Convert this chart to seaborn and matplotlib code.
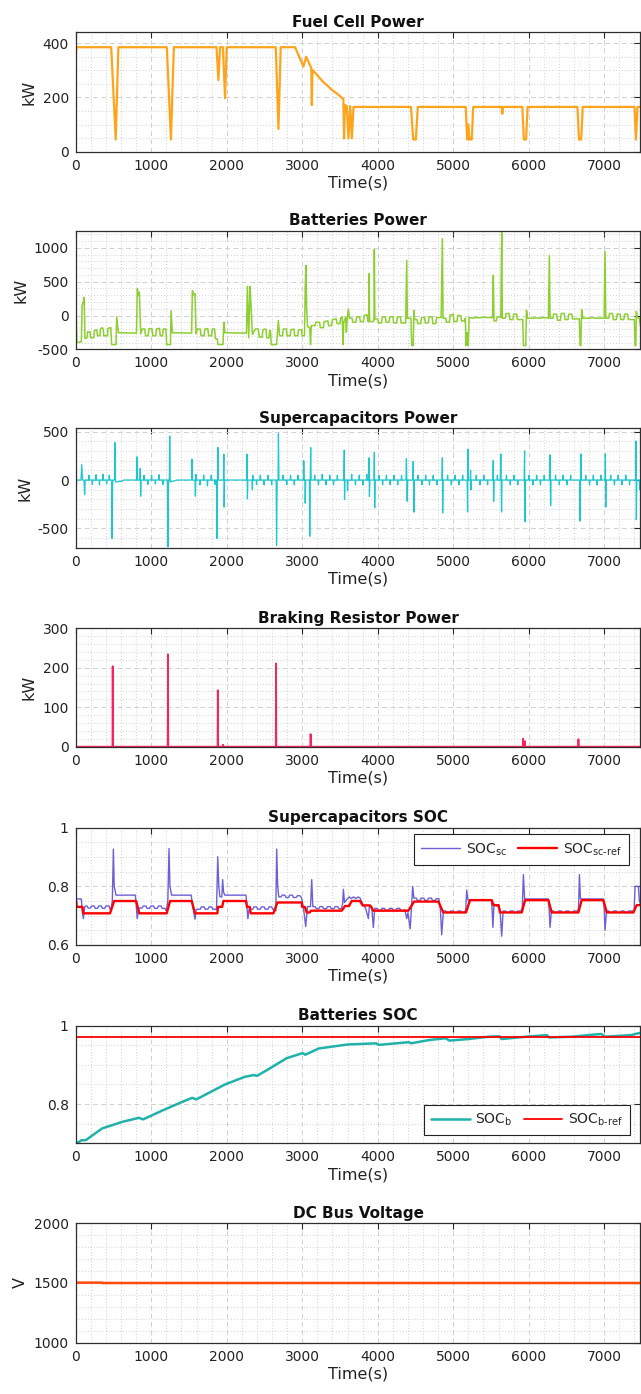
import numpy as np
import pandas as pd
import matplotlib
matplotlib.use("Agg")
import matplotlib.pyplot as plt
from matplotlib.ticker import MultipleLocator, FuncFormatter
import seaborn as sns

# ---------------- data (time in s) ----------------
fuel_cell = [(0, 440), (3, 360), (8, 385), (470, 385), (530, 45), (565, 385), (1207, 385), (1261, 45),
             (1300, 385), (1865, 385), (1890, 264), (1912, 385), (1950, 385), (1978, 197), (2000, 385),
             (2650, 385), (2685, 84), (2715, 385), (2906, 385), (3016, 314), (3052, 350), (3082, 332),
             (3120, 308), (3127, 172), (3135, 301), (3148, 298), (3214, 277), (3280, 256), (3325, 246),
             (3391, 228), (3457, 215), (3523, 199), (3545, 194), (3554, 49), (3565, 172), (3590, 168),
             (3612, 49), (3635, 168), (3657, 49), (3679, 165), (4440, 165), (4470, 45), (4505, 45),
             (4530, 165), (5165, 165), (5185, 45), (5200, 100), (5215, 45), (5245, 45), (5265, 165),
             (5640, 165), (5650, 140), (5660, 165), (5915, 165), (5935, 45), (5965, 45), (5985, 165),
             (6645, 165), (6665, 45), (6695, 45), (6715, 165), (7400, 165), (7420, 45), (7440, 165),
             (7480, 165)]

batteries = [(0, 380), (15, -400), (75, -390), (85, 150), (100, 200), (112, 270), (122, -340), (150, -330),
             (158, -240), (190, -245), (198, -330), (240, -330), (248, -220), (280, -215), (288, -300),
             (320, -300), (328, -200), (350, -180), (365, -200), (372, -300), (420, -300), (428, -190),
             (465, -180), (476, -430), (534, -430), (543, -20), (565, -255), (805, -260), (816, 396),
             (830, 300), (843, 346), (861, -272), (880, -200), (915, -200), (925, -300), (960, -300),
             (970, -195), (1010, -195), (1020, -300), (1060, -300), (1070, -200), (1110, -190),
             (1120, -300), (1150, -300), (1160, -200), (1195, -200), (1205, -430), (1255, -430),
             (1263, 70), (1280, -255), (1535, -260), (1545, 371), (1567, 300), (1580, 321), (1594, -270),
             (1610, -200), (1650, -200), (1660, -300), (1700, -300), (1710, -200), (1750, -195),
             (1760, -300), (1800, -300), (1810, -200), (1840, -200), (1850, -345), (1875, -345),
             (1885, -430), (1950, -430), (1963, -100), (1975, -255), (2262, -260), (2274, 430),
             (2291, -330), (2309, 430), (2322, 150), (2340, -280), (2380, -200), (2420, -200),
             (2430, -320), (2470, -320), (2480, -210), (2520, -200), (2530, -330), (2560, -330),
             (2570, -220), (2580, -230), (2590, -430), (2660, -430), (2684, -74), (2700, -300),
             (2740, -300), (2750, -200), (2790, -200), (2800, -300), (2840, -300), (2850, -210),
             (2890, -200), (2900, -300), (2940, -300), (2950, -210), (2990, -210), (3000, -300),
             (3030, -300), (3040, 420), (3050, 742), (3058, 100), (3070, -150), (3085, -180),
             (3100, -180), (3110, -430), (3120, -150), (3170, -150), (3180, -100), (3230, -100),
             (3240, -180), (3280, -180), (3290, -90), (3340, -80), (3350, -150), (3390, -150),
             (3400, -60), (3450, -50), (3460, -120), (3500, -120), (3510, -30), (3530, -30),
             (3540, -430), (3550, -100), (3575, -25), (3585, -250), (3595, -60), (3611, 99),
             (3625, -40), (3660, -40), (3670, -100), (3710, -100), (3720, -20), (3760, -20),
             (3770, -90), (3810, -90), (3820, 0), (3860, 10), (3870, -90), (3880, -90), (3885, 618),
             (3893, -90), (3940, -90), (3950, -60), (3955, 979), (3962, -50), (4000, -50), (4010, -110),
             (4050, -110), (4060, -20), (4100, -20), (4110, -100), (4150, -100), (4160, -20),
             (4200, -15), (4210, -110), (4250, -110), (4260, -20), (4300, -20), (4310, -110),
             (4370, -110), (4384, 816), (4392, -40), (4440, -40), (4450, -445), (4470, -445),
             (4480, 74), (4490, -60), (4520, -60), (4530, -120), (4570, -120), (4580, -30),
             (4620, -30), (4630, -110), (4670, -110), (4680, -20), (4720, -20), (4730, -120),
             (4770, -120), (4780, -30), (4840, -30), (4856, 1138), (4865, -40), (4900, -40),
             (4910, -100), (4950, -100), (4960, 10), (5000, 15), (5010, -90), (5050, -90), (5060, 0),
             (5100, 0), (5110, -80), (5150, -80), (5160, -40), (5170, -445), (5180, -250),
             (5190, -445), (5200, -445), (5210, -30), (5260, -40), (5300, -30), (5350, -35),
             (5400, -25), (5450, -30), (5520, -30), (5531, 594), (5540, -80), (5570, -80), (5580, -20),
             (5620, -20), (5630, -30), (5642, 1227), (5650, -40), (5690, -40), (5700, 30), (5740, 30),
             (5750, -60), (5790, -60), (5800, 20), (5840, 20), (5850, -60), (5920, -60), (5930, -445),
             (5960, -445), (5970, 80), (5985, -40), (6050, -40), (6100, -35), (6150, -40), (6200, -30),
             (6260, -40), (6273, 890), (6282, -40), (6320, -40), (6330, 20), (6370, 20), (6380, -70),
             (6420, -70), (6430, 30), (6470, 30), (6480, -60), (6520, -60), (6530, 20), (6570, 20),
             (6580, -50), (6670, -50), (6680, -445), (6690, -445), (6700, 90), (6715, -40),
             (6780, -40), (6850, -35), (6920, -40), (6998, -40), (7010, 950), (7020, -40),
             (7060, -40), (7070, 30), (7110, 30), (7120, -60), (7160, -60), (7170, 20), (7210, 20),
             (7220, -60), (7260, -60), (7270, 20), (7310, 20), (7320, -60), (7398, -60), (7408, -445),
             (7418, -445), (7425, 60), (7440, -30), (7465, -40), (7480, -160)]

supercaps = [(0, 250), (5, -180), (12, 0), (70, 0), (80, 160), (90, 0), (110, 0), (118, -150), (126, 0),
             (170, 0), (175, 50), (180, 0), (215, 0), (220, -45), (225, 0), (265, 0), (270, 55), (275, 0),
             (310, 0), (315, -50), (320, 0), (355, 0), (360, 60), (365, 0), (405, 0), (410, -40), (415, 0),
             (440, 0), (445, 50), (450, 0), (476, 0), (481, -605), (490, 0), (514, 0), (519, 387),
             (528, -20), (600, -15), (640, 0), (805, 0), (811, 240), (818, 0), (850, 0), (855, 120),
             (860, -167), (866, 0), (900, 0), (905, 50), (910, 0), (950, 0), (955, -45), (960, 0),
             (1000, 0), (1005, 50), (1010, 0), (1050, 0), (1055, -40), (1060, 0), (1100, 0), (1105, 55),
             (1110, 0), (1150, 0), (1155, -45), (1160, 0), (1215, 0), (1222, -692), (1230, 0), (1240, 0),
             (1245, 455), (1252, -20), (1300, -10), (1340, 0), (1535, 0), (1540, 216), (1547, 0),
             (1580, 0), (1585, -167), (1592, 60), (1598, 0), (1640, 0), (1645, -50), (1650, 0),
             (1690, 0), (1695, 50), (1700, 0), (1740, 0), (1745, -60), (1750, 0), (1790, 0), (1795, 50),
             (1800, 0), (1840, 0), (1845, -45), (1850, 0), (1865, 0), (1870, -605), (1878, 0),
             (1883, 336), (1890, 0), (1957, 0), (1962, 267), (1966, -280), (1972, 0), (2263, 0),
             (2268, 267), (2274, -195), (2280, 0), (2335, 0), (2340, -100), (2345, 50), (2350, 0),
             (2390, 0), (2395, -50), (2400, 0), (2440, 0), (2445, 50), (2450, 0), (2490, 0), (2495, -50),
             (2500, 0), (2540, 0), (2545, 50), (2550, 0), (2590, 0), (2595, -50), (2600, 0), (2655, 0),
             (2660, -675), (2668, 0), (2680, 0), (2685, 479), (2692, 0), (2740, 0), (2745, 50),
             (2750, 0), (2790, 0), (2795, -50), (2800, 0), (2840, 0), (2845, 50), (2850, 0), (2890, 0),
             (2895, -50), (2900, 0), (2940, 0), (2945, 50), (2950, 0), (3015, 0), (3020, 200),
             (3028, 0), (3035, 0), (3040, -240), (3046, 0), (3095, 0), (3100, -581), (3106, 0),
             (3112, 336), (3118, 0), (3160, 0), (3165, 50), (3170, 0), (3210, 0), (3215, -50),
             (3220, 0), (3260, 0), (3265, 60), (3270, 0), (3310, 0), (3315, -50), (3320, 0), (3360, 0),
             (3365, 50), (3370, 0), (3410, 0), (3415, -50), (3420, 0), (3460, 0), (3465, 50), (3470, 0),
             (3550, 0), (3557, 310), (3560, -200), (3566, 0), (3595, 0), (3600, -110), (3606, 0),
             (3650, 0), (3655, 60), (3660, 0), (3700, 0), (3705, -50), (3710, 0), (3750, 0), (3755, 50),
             (3760, 0), (3800, 0), (3805, -50), (3810, 0), (3850, 0), (3855, 60), (3860, 0), (3878, 0),
             (3884, 230), (3890, -170), (3896, 0), (3950, 0), (3955, 284), (3960, -288), (3966, 0),
             (4010, 0), (4015, 50), (4020, 0), (4060, 0), (4065, -50), (4070, 0), (4110, 0), (4115, 50),
             (4120, 0), (4160, 0), (4165, -50), (4170, 0), (4210, 0), (4215, 50), (4220, 0), (4260, 0),
             (4265, -50), (4270, 0), (4310, 0), (4315, 50), (4320, 0), (4374, 0), (4380, 220),
             (4390, -219), (4396, 0), (4464, 0), (4470, 192), (4480, -332), (4486, 0), (4530, 0),
             (4535, 50), (4540, 0), (4580, 0), (4585, -50), (4590, 0), (4630, 0), (4635, 50), (4640, 0),
             (4680, 0), (4685, -50), (4690, 0), (4730, 0), (4735, 50), (4740, 0), (4780, 0), (4785, -50),
             (4790, 0), (4850, 0), (4856, 230), (4860, -340), (4866, 0), (4920, 0), (4925, 50),
             (4930, 0), (4970, 0), (4975, -50), (4980, 0), (5020, 0), (5025, 50), (5030, 0), (5070, 0),
             (5075, -50), (5080, 0), (5120, 0), (5125, 50), (5130, 0), (5184, 0), (5190, -330),
             (5195, 319), (5202, 0), (5225, 0), (5230, 100), (5235, -100), (5240, 0), (5300, 0),
             (5305, 50), (5310, 0), (5350, 0), (5355, -50), (5360, 0), (5400, 0), (5405, 50), (5410, 0),
             (5450, 0), (5455, -50), (5460, 0), (5524, 0), (5530, 202), (5535, -220), (5541, 0),
             (5580, 0), (5585, 50), (5590, 0), (5624, 0), (5630, 270), (5640, -330), (5646, 0),
             (5700, 0), (5705, 50), (5710, 0), (5750, 0), (5755, -50), (5760, 0), (5800, 0), (5805, 50),
             (5810, 0), (5850, 0), (5855, -50), (5860, 0), (5939, 0), (5945, 301), (5950, -431),
             (5956, 0), (6000, 0), (6005, 50), (6010, 0), (6050, 0), (6055, -50), (6060, 0), (6100, 0),
             (6105, 50), (6110, 0), (6150, 0), (6155, -50), (6160, 0), (6200, 0), (6205, 50), (6210, 0),
             (6274, 0), (6280, 260), (6290, -265), (6296, 0), (6350, 0), (6355, 50), (6360, 0),
             (6400, 0), (6405, -50), (6410, 0), (6450, 0), (6455, 50), (6460, 0), (6500, 0), (6505, -50),
             (6510, 0), (6550, 0), (6555, 50), (6560, 0), (6674, 0), (6680, -425), (6690, 270),
             (6696, 0), (6750, 0), (6755, 50), (6760, 0), (6800, 0), (6805, -50), (6810, 0), (6850, 0),
             (6855, 50), (6860, 0), (6900, 0), (6905, -50), (6910, 0), (6950, 0), (6955, 50), (6960, 0),
             (7009, 0), (7015, 270), (7020, -280), (7026, 0), (7080, 0), (7085, 50), (7090, 0),
             (7130, 0), (7135, -50), (7140, 0), (7180, 0), (7185, 50), (7190, 0), (7230, 0),
             (7235, -50), (7240, 0), (7280, 0), (7285, 50), (7290, 0), (7330, 0), (7335, -50),
             (7340, 0), (7414, 0), (7420, 404), (7425, -411), (7431, 0), (7465, 0), (7470, -100),
             (7480, -60)]

braking = [(0, 0), (487, 0), (490, 204), (494, 0), (1219, 0), (1222, 234), (1226, 0), (1879, 0),
           (1882, 143), (1886, 0), (1950, 0), (1953, 5), (1956, 0), (2650, 0), (2653, 211), (2657, 0),
           (3108, 0), (3111, 32), (3115, 0), (5922, 0), (5925, 20), (5929, 0), (5945, 0), (5948, 14),
           (5951, 0), (6655, 0), (6658, 19), (6662, 0), (7480, 0)]

soc_sc = [(0, 0.80), (5, 0.71), (12, 0.757), (75, 0.757), (85, 0.72), (101, 0.69), (120, 0.731),
          (150, 0.733), (165, 0.726), (195, 0.726), (210, 0.733), (245, 0.733), (260, 0.725),
          (290, 0.725), (305, 0.733), (340, 0.733), (355, 0.725), (385, 0.725), (400, 0.733),
          (440, 0.733), (465, 0.716), (485, 0.75), (499, 0.927), (510, 0.80), (534, 0.77), (790, 0.77),
          (800, 0.74), (815, 0.69), (830, 0.72), (845, 0.726), (880, 0.726), (895, 0.733), (930, 0.733),
          (945, 0.725), (980, 0.725), (995, 0.733), (1030, 0.733), (1045, 0.725), (1080, 0.725),
          (1095, 0.733), (1130, 0.733), (1145, 0.725), (1180, 0.725), (1200, 0.716), (1220, 0.75),
          (1236, 0.929), (1248, 0.80), (1270, 0.77), (1530, 0.77), (1545, 0.74), (1580, 0.688),
          (1595, 0.72), (1610, 0.722), (1650, 0.722), (1665, 0.73), (1700, 0.73), (1715, 0.722),
          (1750, 0.722), (1765, 0.73), (1800, 0.73), (1815, 0.722), (1850, 0.722), (1865, 0.72),
          (1881, 0.901), (1895, 0.80), (1910, 0.764), (1935, 0.764), (1946, 0.823), (1958, 0.78),
          (1975, 0.77), (2255, 0.77), (2265, 0.74), (2280, 0.69), (2295, 0.72), (2310, 0.722),
          (2345, 0.722), (2360, 0.73), (2395, 0.73), (2410, 0.722), (2445, 0.722), (2460, 0.73),
          (2495, 0.73), (2510, 0.722), (2545, 0.722), (2560, 0.73), (2595, 0.73), (2610, 0.722),
          (2640, 0.722), (2650, 0.716), (2662, 0.927), (2675, 0.80), (2690, 0.764), (2720, 0.764),
          (2735, 0.77), (2770, 0.77), (2785, 0.762), (2820, 0.762), (2835, 0.77), (2870, 0.77),
          (2885, 0.762), (2920, 0.762), (2935, 0.768), (2970, 0.768), (2990, 0.762), (3020, 0.72),
          (3046, 0.663), (3070, 0.731), (3110, 0.731), (3126, 0.823), (3140, 0.731), (3170, 0.731),
          (3185, 0.724), (3220, 0.724), (3235, 0.731), (3270, 0.731), (3285, 0.724), (3320, 0.724),
          (3335, 0.731), (3370, 0.731), (3385, 0.724), (3420, 0.724), (3435, 0.731), (3470, 0.731),
          (3485, 0.724), (3520, 0.724), (3535, 0.74), (3545, 0.79), (3560, 0.745), (3590, 0.755),
          (3620, 0.764), (3650, 0.758), (3680, 0.764), (3710, 0.758), (3740, 0.764), (3766, 0.76),
          (3800, 0.74), (3840, 0.725), (3876, 0.69), (3890, 0.735), (3920, 0.73), (3942, 0.66),
          (3960, 0.725), (3990, 0.725), (4005, 0.718), (4040, 0.718), (4055, 0.725), (4090, 0.725),
          (4105, 0.718), (4140, 0.718), (4155, 0.725), (4190, 0.725), (4205, 0.718), (4240, 0.718),
          (4255, 0.725), (4290, 0.725), (4305, 0.718), (4340, 0.718), (4360, 0.72), (4384, 0.69),
          (4400, 0.71), (4430, 0.655), (4445, 0.72), (4463, 0.80), (4478, 0.76), (4510, 0.76),
          (4525, 0.752), (4560, 0.752), (4575, 0.76), (4610, 0.76), (4625, 0.752), (4660, 0.752),
          (4675, 0.76), (4710, 0.76), (4725, 0.752), (4760, 0.752), (4775, 0.758), (4810, 0.758),
          (4830, 0.72), (4847, 0.635), (4870, 0.716), (4900, 0.716), (4915, 0.711), (4950, 0.711),
          (4965, 0.716), (5000, 0.716), (5015, 0.711), (5050, 0.711), (5065, 0.716), (5100, 0.716),
          (5115, 0.711), (5150, 0.711), (5165, 0.72), (5178, 0.787), (5195, 0.753), (5505, 0.753),
          (5515, 0.72), (5525, 0.66), (5540, 0.74), (5560, 0.735), (5600, 0.73), (5620, 0.72),
          (5642, 0.63), (5660, 0.716), (5690, 0.716), (5705, 0.711), (5740, 0.711), (5755, 0.716),
          (5790, 0.716), (5805, 0.711), (5840, 0.711), (5855, 0.716), (5900, 0.716), (5915, 0.73),
          (5929, 0.84), (5945, 0.757), (6260, 0.757), (6270, 0.72), (6282, 0.66), (6300, 0.716),
          (6330, 0.716), (6345, 0.711), (6380, 0.711), (6395, 0.716), (6430, 0.716), (6445, 0.711),
          (6480, 0.711), (6495, 0.716), (6530, 0.716), (6545, 0.711), (6580, 0.711), (6595, 0.716),
          (6650, 0.716), (6660, 0.73), (6671, 0.84), (6685, 0.757), (6990, 0.757), (7000, 0.72),
          (7010, 0.65), (7030, 0.716), (7060, 0.716), (7075, 0.711), (7110, 0.711), (7125, 0.716),
          (7160, 0.716), (7175, 0.711), (7210, 0.711), (7225, 0.716), (7260, 0.716), (7275, 0.711),
          (7310, 0.711), (7325, 0.716), (7395, 0.716), (7408, 0.80), (7452, 0.80), (7465, 0.75),
          (7480, 0.74)]

soc_sc_ref = [(0, 0.748), (8, 0.748), (12, 0.73), (90, 0.73), (100, 0.708), (455, 0.708), (508, 0.75),
              (800, 0.75), (843, 0.708), (1205, 0.708), (1250, 0.75), (1536, 0.75), (1580, 0.708),
              (1876, 0.708), (1885, 0.73), (1940, 0.73), (1956, 0.75), (2256, 0.75), (2268, 0.73),
              (2305, 0.73), (2318, 0.708), (2618, 0.708), (2671, 0.745), (2993, 0.745), (3000, 0.73),
              (3035, 0.73), (3060, 0.711), (3100, 0.711), (3115, 0.717), (3523, 0.717), (3567, 0.733),
              (3620, 0.733), (3655, 0.75), (3766, 0.75), (3800, 0.735), (3900, 0.735), (3942, 0.717),
              (4406, 0.717), (4481, 0.748), (4803, 0.748), (4869, 0.711), (5169, 0.711), (5222, 0.753),
              (5510, 0.753), (5532, 0.736), (5600, 0.736), (5620, 0.711), (5907, 0.711), (5951, 0.753),
              (6260, 0.753), (6304, 0.711), (6657, 0.711), (6701, 0.753), (6988, 0.753), (7033, 0.711),
              (7386, 0.711), (7430, 0.736), (7480, 0.736)]

soc_b = [(0, 0.701), (40, 0.703), (80, 0.708), (133, 0.708), (351, 0.738), (622, 0.755), (838, 0.765),
         (893, 0.761), (1163, 0.785), (1439, 0.808), (1543, 0.816), (1598, 0.812), (1976, 0.850),
         (2246, 0.870), (2357, 0.874), (2400, 0.872), (2571, 0.891), (2792, 0.917), (3004, 0.930),
         (3040, 0.926), (3221, 0.942), (3600, 0.952), (3979, 0.955), (4010, 0.951), (4412, 0.958),
         (4440, 0.955), (4683, 0.9635), (4900, 0.968), (4950, 0.962), (5200, 0.966), (5474, 0.972),
         (5610, 0.973), (5640, 0.966), (5970, 0.972), (6240, 0.976), (6270, 0.970), (6574, 0.972),
         (6960, 0.979), (7010, 0.972), (7354, 0.976), (7480, 0.982)]

soc_b_ref = [(0, 0.97), (7480, 0.97)]

dc_bus = [(0, 1503), (350, 1503), (355, 1500), (7480, 1500)]

# --------------- style ---------------
sns.set_theme(style="white")
plt.rcParams["font.family"] = ["DejaVu Sans"]
plt.rcParams["mathtext.default"] = "regular"

W, H = 641, 1394
fig = plt.figure(figsize=(W / 100, H / 100), dpi=100)
fig.patch.set_facecolor("white")

left_px, right_px = 75.7, 640.5
tops = [32.3, 231.0, 428.3, 628.3, 827.7, 1025.7, 1223.3]
bots = [151.7, 349.3, 547.7, 746.7, 945.0, 1143.3, 1342.7]

panels = [
    dict(title="Fuel Cell Power", ylabel="kW", ylim=(0, 440), yticks=[0, 200, 400], yminor=50),
    dict(title="Batteries Power", ylabel="kW", ylim=(-500, 1250), yticks=[-500, 0, 500, 1000], yminor=100),
    dict(title="Supercapacitors Power", ylabel="kW", ylim=(-700, 535), yticks=[-500, 0, 500], yminor=100),
    dict(title="Braking Resistor Power", ylabel="kW", ylim=(0, 300), yticks=[0, 100, 200, 300], yminor=20),
    dict(title="Supercapacitors SOC", ylabel="", ylim=(0.6, 1.0), yticks=[0.6, 0.8, 1.0], yminor=0.05),
    dict(title="Batteries SOC", ylabel="", ylim=(0.7, 1.0), yticks=[0.8, 1.0], yminor=0.05),
    dict(title="DC Bus Voltage", ylabel="V", ylim=(1000, 2000), yticks=[1000, 1500, 2000], yminor=100),
]

axes = []
for i, p in enumerate(panels):
    ax = fig.add_axes([left_px / W, 1 - bots[i] / H, (right_px - left_px) / W, (bots[i] - tops[i]) / H])
    axes.append(ax)


def draw(ax, pts, color, lw, label=None):
    df = pd.DataFrame(pts, columns=["t", "v"])
    sns.lineplot(data=df, x="t", y="v", ax=ax, color=color, linewidth=lw,
                 estimator=None, sort=False, legend=False, label=label)


draw(axes[0], fuel_cell, "#FFA31A", 1.6)
draw(axes[1], batteries, "#8DCF30", 1.1)
draw(axes[2], supercaps, "#1CC8D0", 0.9)
draw(axes[3], braking, "#F5245C", 1.3)
draw(axes[4], soc_sc, "#6B60D8", 1.0, r"SOC$_{sc}$")
draw(axes[4], soc_sc_ref, "#FF0000", 1.7, r"SOC$_{sc\text{-}ref}$")
draw(axes[5], soc_b, "#20B2AA", 1.8, r"SOC$_{b}$")
draw(axes[5], soc_b_ref, "#FF0000", 1.3, r"SOC$_{b\text{-}ref}$")
draw(axes[6], dc_bus, "#FF4A0A", 1.8)

fmt = FuncFormatter(lambda v, pos: f"{v:g}")
for ax, p in zip(axes, panels):
    ax.set_xlim(0, 7480)
    ax.set_ylim(*p["ylim"])
    ax.set_xticks(list(range(0, 8000, 1000)))
    ax.set_yticks(p["yticks"])
    ax.yaxis.set_major_formatter(fmt)
    ax.xaxis.set_minor_locator(MultipleLocator(200))
    ax.yaxis.set_minor_locator(MultipleLocator(p["yminor"]))
    ax.grid(which="major", linestyle=(0, (5, 3.5)), color="#d0d0d0", linewidth=0.7)
    ax.grid(which="minor", linestyle=(0, (1, 2.5)), color="#c4c4c4", linewidth=0.6)
    ax.set_axisbelow(True)
    ax.tick_params(which="major", direction="in", top=True, right=True, length=4, width=0.8,
                   color="#262626", labelsize=10, pad=5, labelcolor="#222222")
    ax.tick_params(which="minor", length=0)
    for s in ax.spines.values():
        s.set_color("#2e2e2e")
        s.set_linewidth(0.9)
    ax.set_title(p["title"], fontsize=11, fontweight="bold", pad=4, color="#111111")
    ax.set_xlabel("Time(s)", fontsize=11.5, labelpad=2, color="#222222")
    ax.set_ylabel(p["ylabel"], fontsize=11.5, labelpad=4, color="#222222")

leg_kw = dict(ncol=2, fontsize=10, frameon=True, fancybox=False, framealpha=1, edgecolor="#222222",
              handlelength=2.8, handletextpad=0.4, columnspacing=0.8, borderaxespad=0,
              borderpad=0.5)
l1 = axes[4].legend(loc="upper right", bbox_to_anchor=(0.979, 0.944), **leg_kw)
l2 = axes[5].legend(loc="lower right", bbox_to_anchor=(0.981, 0.071), **leg_kw)
for lg in (l1, l2):
    lg.get_frame().set_linewidth(0.8)

fig.savefig("out.png", dpi=100, facecolor="white")
